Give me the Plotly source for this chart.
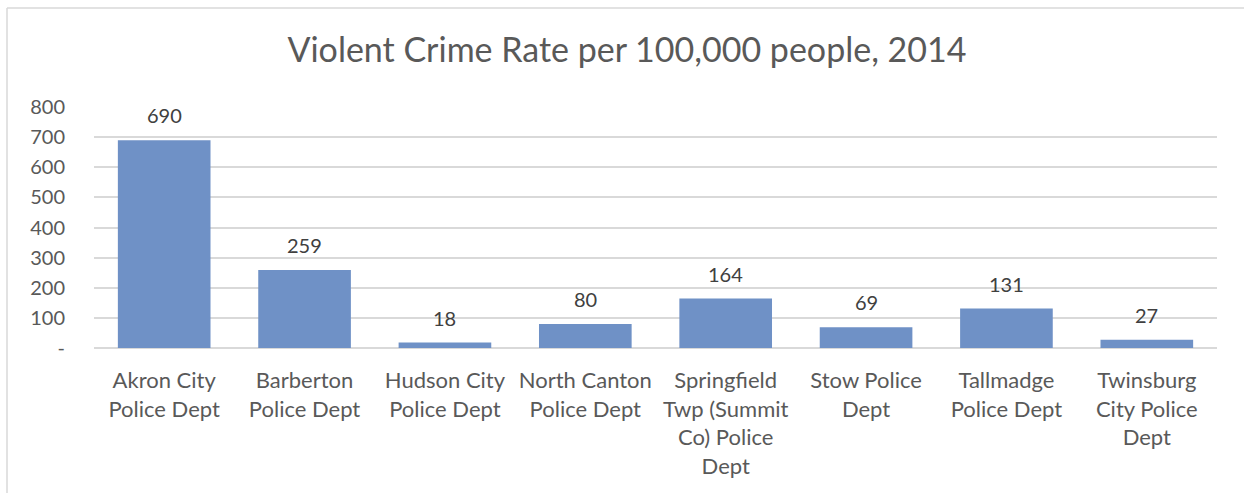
import plotly.graph_objects as go

categories = [
    "Akron City<br>Police Dept",
    "Barberton<br>Police Dept",
    "Hudson City<br>Police Dept",
    "North Canton<br>Police Dept",
    "Springfield<br>Twp (Summit<br>Co) Police<br>Dept",
    "Stow Police<br>Dept",
    "Tallmadge<br>Police Dept",
    "Twinsburg<br>City Police<br>Dept",
]
values = [690, 259, 18, 80, 164, 69, 131, 27]
y_tickvals = [0, 100, 200, 300, 400, 500, 600, 700, 800]
y_ticktext = ["-", "100", "200", "300", "400", "500", "600", "700", "800"]
title_text = "Violent Crime Rate per 100,000 people, 2014"

W, H = 1244, 493
L, R, T, B = 94, 27, 107, 145
pw, ph = W - L - R, H - T - B

FONT = "Lato"

fig = go.Figure(
    go.Bar(
        x=categories,
        y=values,
        marker=dict(color="#6F91C6", line=dict(width=0)),
        cliponaxis=False,
    )
)

for c, v in zip(categories, values):
    fig.add_annotation(
        x=c, y=v, text=str(v), showarrow=False,
        yanchor="bottom", yshift=11,
        font=dict(family=FONT, size=20, color="#404040"),
    )

bx = (7 - L) / pw
by = (H - B - 8) / ph
fig.update_layout(
    width=W,
    height=H,
    margin=dict(l=L, r=R, t=T, b=B),
    paper_bgcolor="white",
    plot_bgcolor="white",
    bargap=0.34,
    showlegend=False,
    title=dict(
        text=title_text,
        x=0.504,
        xanchor="center",
        y=1 - 50 / H,
        yanchor="middle",
        yref="container",
        font=dict(family=FONT, size=34, color="#595959"),
    ),
    xaxis=dict(
        showgrid=False,
        showline=False,
        ticks="",
        tickfont=dict(family=FONT, size=22, color="#595959"),
        ticklabelstandoff=17,
    ),
    yaxis=dict(
        range=[0, 800],
        tickvals=y_tickvals,
        ticktext=y_ticktext,
        showgrid=True,
        gridcolor="#D9D9D9",
        gridwidth=1.5,
        zeroline=True,
        zerolinecolor="#D9D9D9",
        zerolinewidth=1.5,
        ticks="",
        tickfont=dict(family=FONT, size=20, color="#595959"),
        ticklabelstandoff=28,
    ),
    shapes=[
        dict(type="line", xref="paper", yref="paper", x0=bx, x1=bx, y0=by, y1=-1,
             line=dict(color="#D9D9D9", width=1.5)),
        dict(type="line", xref="paper", yref="paper", x0=bx, x1=1.2, y0=by, y1=by,
             line=dict(color="#D9D9D9", width=1.5)),
    ],
)

fig.write_html("out.html")
